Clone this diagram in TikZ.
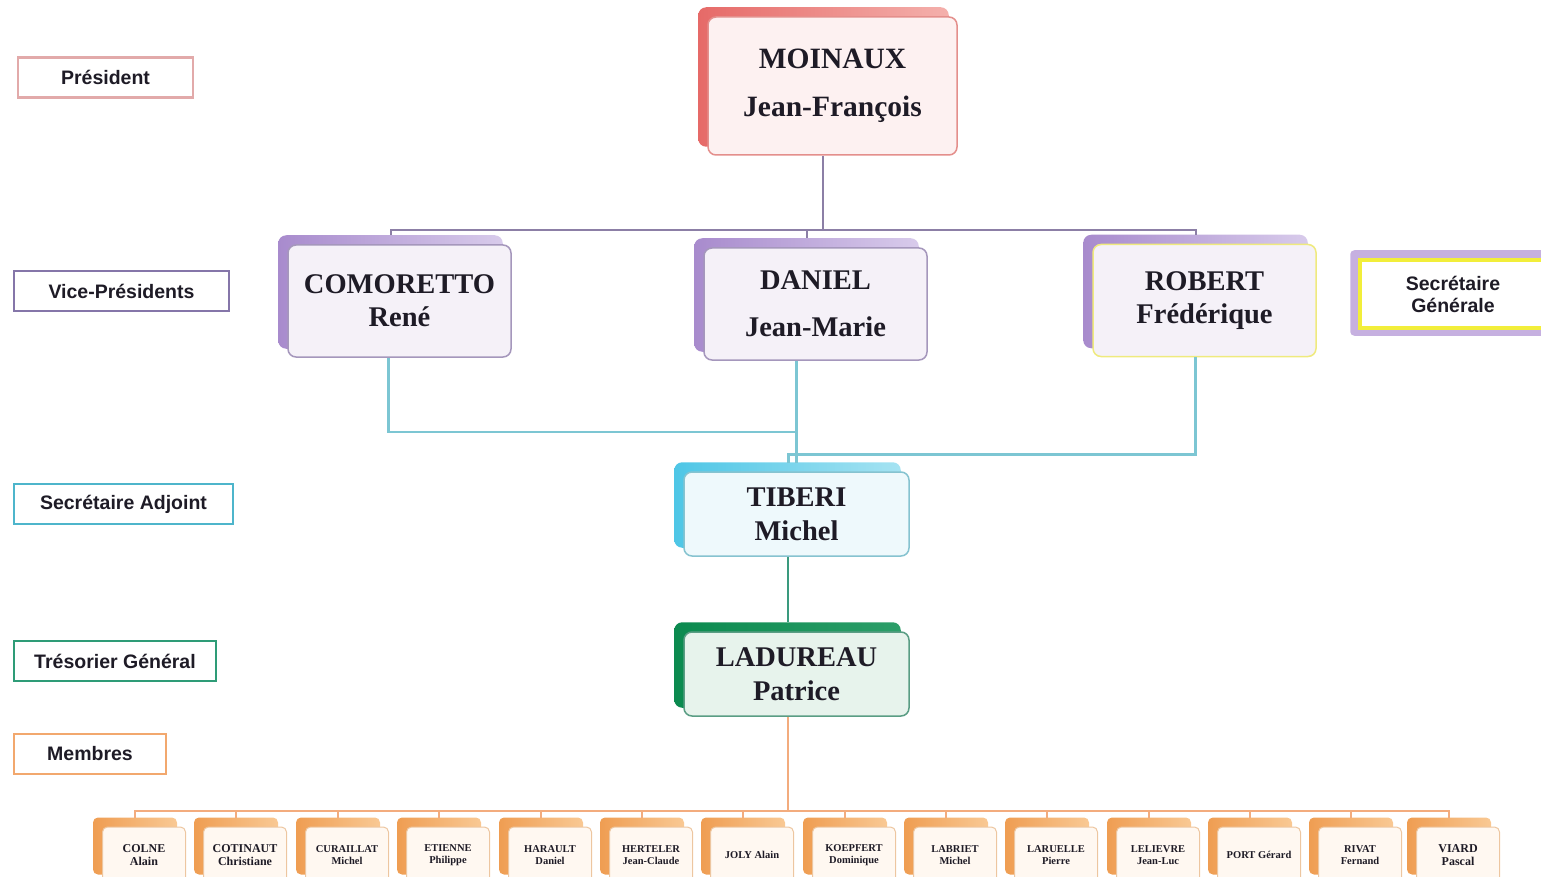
\documentclass[tikz,border=0pt]{standalone}
\usepackage{fontspec}
\setmainfont{Liberation Serif}
\newfontfamily\labfont{Liberation Sans}
\usetikzlibrary{backgrounds,calc}

\definecolor{ink}{HTML}{1E1B26}
\definecolor{presbord}{HTML}{E48F8C}\definecolor{presfill}{HTML}{FDF1F1}
\definecolor{shpres}{HTML}{E66A68}\definecolor{lipres}{HTML}{F4B0AC}
\definecolor{vpbord}{HTML}{A597BC}\definecolor{vpfill}{HTML}{F5F1F8}
\definecolor{shvp}{HTML}{A88BCD}\definecolor{livp}{HTML}{D8CBEB}
\definecolor{robbord}{HTML}{EFEA7E}
\definecolor{tibbord}{HTML}{86C3D0}\definecolor{tibfill}{HTML}{EEF9FC}
\definecolor{shtib}{HTML}{4EC6E6}\definecolor{litib}{HTML}{A5E3F2}
\definecolor{ladbord}{HTML}{5A9D84}\definecolor{ladfill}{HTML}{E7F3EC}
\definecolor{shlad}{HTML}{0B8A4F}\definecolor{lilad}{HTML}{2C9E69}
\definecolor{membord}{HTML}{EDC6A0}\definecolor{memfill}{HTML}{FFF8F1}
\definecolor{shmem}{HTML}{EF9D52}\definecolor{limem}{HTML}{F9C994}
\definecolor{vpline}{HTML}{8C7FA6}\definecolor{tibline}{HTML}{7CC6D3}
\definecolor{ladline}{HTML}{3A9A7E}\definecolor{memline}{HTML}{F3AC7E}
\definecolor{rolepres}{HTML}{E2AAAA}\definecolor{rolevp}{HTML}{8576A9}
\definecolor{rolesa}{HTML}{4DB5CB}\definecolor{roletr}{HTML}{2E9C77}
\definecolor{rolemem}{HTML}{F2A86E}\definecolor{rolesg}{HTML}{F2EE3A}
\definecolor{sgshade}{HTML}{C6B0E0}

\begin{document}
\begin{tikzpicture}[x=1pt, y=-1pt]
\tikzstyle{every node}=[align=center, text=ink, inner sep=0pt];
\tikzstyle{person}=[draw, rounded corners=8pt, line width=1.5pt, minimum width=223pt, minimum height=112pt, font=\fontsize{28.5}{33}\selectfont\bfseries];
\tikzstyle{role}=[draw, line width=2.5pt, fill=white, minimum height=40pt, font=\labfont\fontsize{19.5}{22}\selectfont\bfseries];
\tikzstyle{member}=[draw=membord, fill=memfill, rounded corners=5pt, line width=1pt, minimum width=83pt, minimum height=56pt, font=\fontsize{10.5}{12.5}\selectfont\bfseries];
\tikzstyle{bigmember}=[member, font=\fontsize{12}{12.5}\selectfont\bfseries];
\useasboundingbox (0,0) rectangle (1541,877);
\clip (0,0) rectangle (1541,877);

% roles on the left
\node[role, draw=rolepres, minimum width=175pt] (rpres) at (105.5,77.5) {Président};
\node[role, draw=rolevp, minimum width=215pt] (rvp) at (121.5,291) {Vice-Présidents};
\node[role, draw=rolesa, minimum width=219pt] (rsa) at (123.5,504) {Secrétaire Adjoint};
\node[role, draw=roletr, minimum width=202pt] (rtr) at (115,661) {Trésorier Général};
\node[role, draw=rolemem, minimum width=152pt] (rmem) at (90,754) {Membres};
\node[role, draw=rolesg, line width=3.5pt, minimum width=186pt, minimum height=68pt] (sg) at (1453,294) {Secrétaire\\Générale};

% bureau
\node[person, draw=presbord, fill=presfill, minimum width=249pt, minimum height=138pt, font=\fontsize{29.5}{48}\selectfont\bfseries] (pres) at (832.5,86) {MOINAUX\\Jean-François};
\node[person, draw=vpbord, fill=vpfill] (com) at (399.5,301) {COMORETTO\\René};
\node[person, draw=vpbord, fill=vpfill, font=\fontsize{28.5}{47}\selectfont\bfseries] (dan) at (815.5,304) {DANIEL\\Jean-Marie};
\node[person, draw=robbord, fill=vpfill] (rob) at (1204.5,300.5) {ROBERT\\Frédérique};
\node[person, draw=tibbord, fill=tibfill, minimum width=225pt, minimum height=84pt, font=\fontsize{28.5}{34}\selectfont\bfseries] (tib) at (796.5,514) {TIBERI\\Michel};
\node[person, draw=ladbord, fill=ladfill, minimum width=225pt, minimum height=84pt, font=\fontsize{28.5}{34}\selectfont\bfseries] (lad) at (796.5,674) {LADUREAU\\Patrice};

% membres
\node[bigmember] (m1) at (144,855) {COLNE\\Alain};
\node[bigmember] (m2) at (245,855) {COTINAUT\\Christiane};
\node[member] (m3) at (347,855) {CURAILLAT\\Michel};
\node[member] (m4) at (448,855) {ETIENNE\\Philippe};
\node[member] (m5) at (550,855) {HARAULT\\Daniel};
\node[member] (m6) at (651,855) {HERTELER\\Jean-Claude};
\node[member] (m7) at (752,855) {JOLY Alain};
\node[member] (m8) at (854,855) {KOEPFERT\\Dominique};
\node[member] (m9) at (955,855) {LABRIET\\Michel};
\node[member] (m10) at (1056,855) {LARUELLE\\Pierre};
\node[member] (m11) at (1158,855) {LELIEVRE\\Jean-Luc};
\node[member] (m12) at (1259,855) {PORT Gérard};
\node[member] (m13) at (1360,855) {RIVAT\\Fernand};
\node[bigmember] (m14) at (1458,855) {VIARD\\Pascal};

% shadows behind the boxes
\begin{scope}[on background layer]
\fill[sgshade, rounded corners=4pt] ($(sg.north west)+(-8,-8)$) rectangle ($(sg.south east)+(6,6)$);
\foreach \n/\c in {pres/pres,com/vp,dan/vp,rob/vp,tib/tib,lad/lad}
  \shade[rounded corners=8pt, left color=sh\c, right color=li\c] ($(\n.north west)+(-9,-9)$) rectangle ($(\n.south east)+(-9,-9)$);
\foreach \n in {1,...,14}
  \shade[rounded corners=5pt, left color=shmem, right color=limem] ($(m\n.north west)+(-9,-9)$) rectangle ($(m\n.south east)+(-9,-9)$);
\end{scope}

\draw[vpline, line width=2pt] ([xshift=-10pt]pres.south) -- ++(0,74) coordinate (vpbus)
(vpbus) -| ([xshift=-9pt,yshift=9pt]com.north)
(vpbus) -| ([xshift=-9pt,yshift=9pt]rob.north)
(vpbus) -| ([xshift=-9pt,yshift=9pt]dan.north);
\draw[tibline, line width=2.5pt] ([xshift=-19pt]dan.south) -- ([yshift=8pt]tib.north)
([xshift=-11pt]com.south) |- ([xshift=-19pt,yshift=-71pt]dan.south)
([xshift=-9pt]rob.south) |- ([xshift=-8pt,yshift=17pt]tib.north) -- ([xshift=-8pt,yshift=8pt]tib.north);
\draw[ladline, line width=2pt] ([xshift=-9pt]tib.south) -- ([xshift=-9pt,yshift=9pt]lad.north);
\draw[memline, line width=2pt] ([xshift=-9pt]lad.south) -- ++(0,94) coordinate (bus)
(bus) -| ([xshift=-9pt,yshift=9pt]m1.north)
(bus) -| ([xshift=-9pt,yshift=9pt]m2.north)
(bus) -| ([xshift=-9pt,yshift=9pt]m3.north)
(bus) -| ([xshift=-9pt,yshift=9pt]m4.north)
(bus) -| ([xshift=-9pt,yshift=9pt]m5.north)
(bus) -| ([xshift=-9pt,yshift=9pt]m6.north)
(bus) -| ([xshift=-9pt,yshift=9pt]m7.north)
(bus) -| ([xshift=-9pt,yshift=9pt]m8.north)
(bus) -| ([xshift=-9pt,yshift=9pt]m9.north)
(bus) -| ([xshift=-9pt,yshift=9pt]m10.north)
(bus) -| ([xshift=-9pt,yshift=9pt]m11.north)
(bus) -| ([xshift=-9pt,yshift=9pt]m12.north)
(bus) -| ([xshift=-9pt,yshift=9pt]m13.north)
(bus) -| ([xshift=-9pt,yshift=9pt]m14.north);
\end{tikzpicture}
\end{document}
